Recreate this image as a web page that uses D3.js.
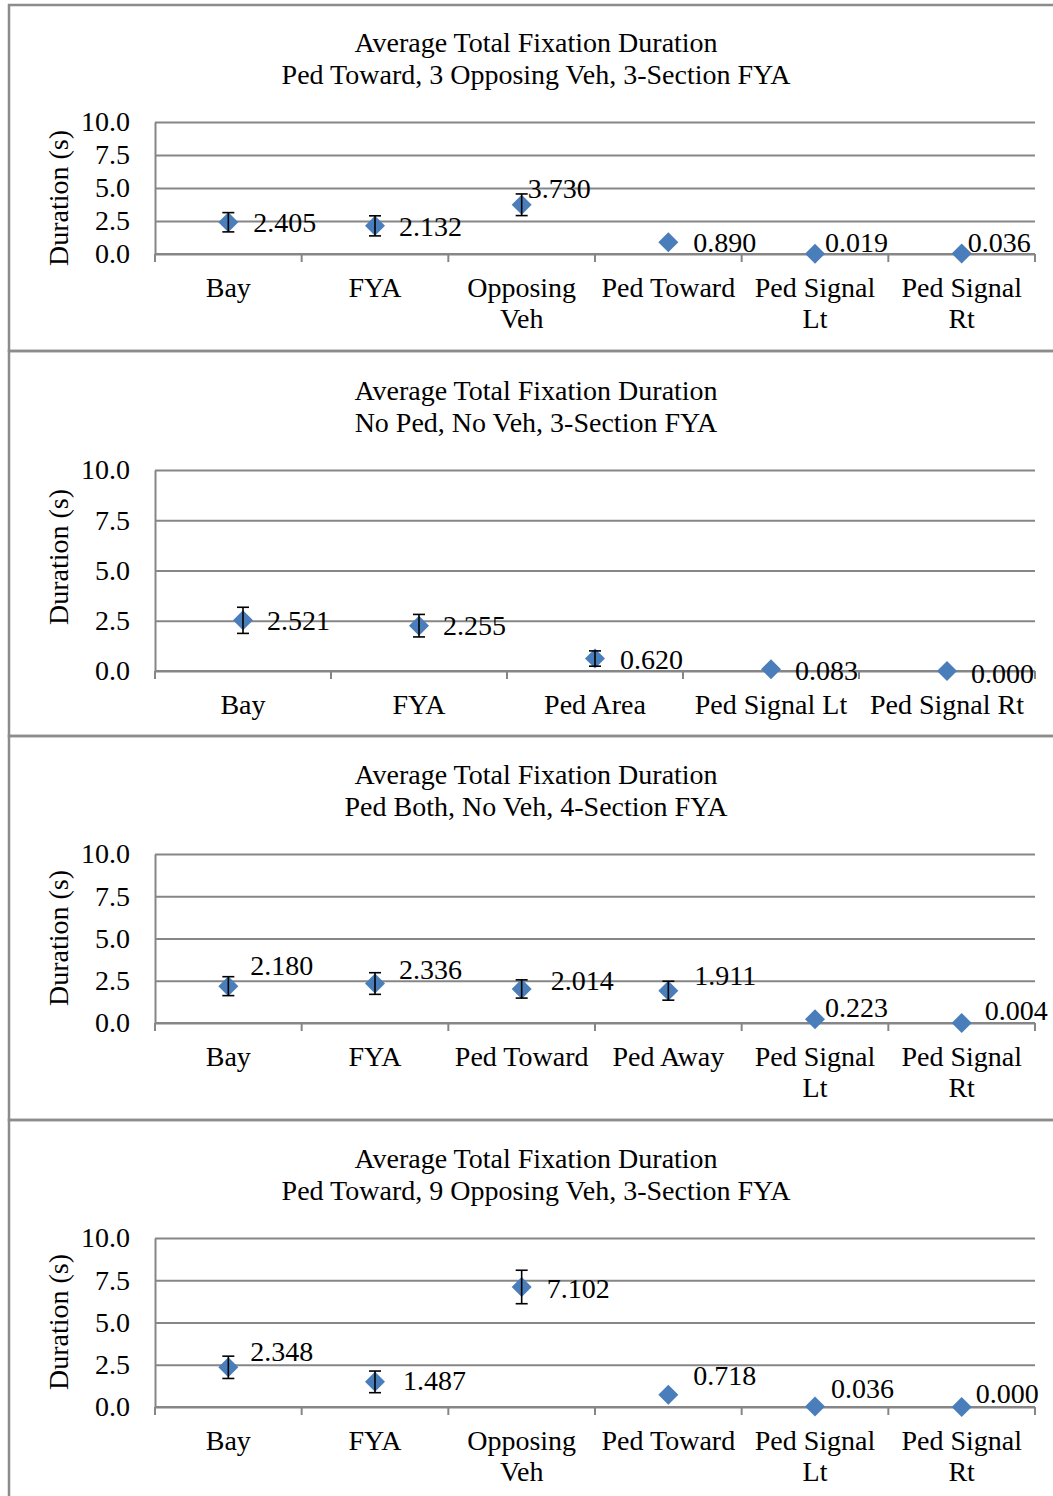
<!DOCTYPE html>
<html>
<head>
<meta charset="utf-8">
<script src="https://cdn.jsdelivr.net/npm/d3@7"></script>
<style>
  body { margin: 0; background: #fff; }
  svg { display: block; }
  text { font-family: "Liberation Serif", "Times New Roman", serif; fill: #000; }
</style>
</head>
<body>
<div id="chart"></div>
<script>
// ---- data ----
const titleSub = [
  'Ped Toward, 3 Opposing Veh, 3-Section FYA',
  'No Ped, No Veh, 3-Section FYA',
  'Ped Both, No Veh, 4-Section FYA',
  'Ped Toward, 9 Opposing Veh, 3-Section FYA'
];
const yTicks = [0, 2.5, 5, 7.5, 10];

const cats1 = ['Bay', 'FYA', 'Opposing\nVeh', 'Ped Toward', 'Ped Signal\nLt', 'Ped Signal\nRt'];
const vals1 = [2.405, 2.132, 3.730, 0.890, 0.019, 0.036];
const errs1 = [0.73, 0.76, 0.82, 0, 0, 0];

const cats2 = ['Bay', 'FYA', 'Ped Area', 'Ped Signal Lt', 'Ped Signal Rt'];
const vals2 = [2.521, 2.255, 0.620, 0.083, 0.000];
const errs2 = [0.65, 0.56, 0.38, 0, 0];

const cats3 = ['Bay', 'FYA', 'Ped Toward', 'Ped Away', 'Ped Signal\nLt', 'Ped Signal\nRt'];
const vals3 = [2.180, 2.336, 2.014, 1.911, 0.223, 0.004];
const errs3 = [0.56, 0.64, 0.54, 0.56, 0, 0];

const cats4 = ['Bay', 'FYA', 'Opposing\nVeh', 'Ped Toward', 'Ped Signal\nLt', 'Ped Signal\nRt'];
const vals4 = [2.348, 1.487, 7.102, 0.718, 0.036, 0.000];
const errs4 = [0.66, 0.64, 0.99, 0, 0, 0];

// ---- layout (label offsets from marker, px) ----
const labelOff1 = [[25, 0], [24, 0], [6, -17], [25, 0], [10, -12], [6, -11]];
const labelOff2 = [[24, 0], [24, 0], [25, 1], [24, 1], [24, 2]];
const labelOff3 = [[22, -21], [24, -14], [29, -9], [26, -16], [10, -12], [23, -13]];
const labelOff4 = [[22, -16], [28, -2], [25, 1], [25, -20], [16, -18], [14, -14]];

const W = 1053, H = 1496;
const FS = '28px';
const panels = [
  { cats: cats1, vals: vals1, errs: errs1, off: labelOff1, box: [5, 351], top: 122, bottom: 254, ylab: 198 },
  { cats: cats2, vals: vals2, errs: errs2, off: labelOff2, box: [351, 736], top: 470, bottom: 671, ylab: 557 },
  { cats: cats3, vals: vals3, errs: errs3, off: labelOff3, box: [736, 1120], top: 854, bottom: 1023, ylab: 938 },
  { cats: cats4, vals: vals4, errs: errs4, off: labelOff4, box: [1120, 1510], top: 1238, bottom: 1407, ylab: 1322 }
];
const plotLeft = 155, plotRight = 1035;
const grey = '#868686';
const blue = '#4a7ebb';

const svg = d3.select('#chart').append('svg')
  .attr('width', W)
  .attr('height', H);

panels.forEach((p, i) => {
  // panel frame
  svg.append('rect')
    .attr('x', 9).attr('y', p.box[0])
    .attr('width', W + 20).attr('height', p.box[1] - p.box[0])
    .attr('fill', 'none')
    .attr('stroke', '#8c8c8c')
    .attr('stroke-width', 2.5);

  const g = svg.append('g');

  const x = d3.scaleBand()
    .domain(p.cats)
    .range([plotLeft, plotRight])
    .padding(0);
  const y = d3.scaleLinear()
    .domain([0, 10])
    .range([p.bottom, p.top]);

  // title
  g.append('text')
    .attr('x', 536).attr('y', p.top - 80)
    .attr('text-anchor', 'middle').attr('dy', '0.35em')
    .style('font-size', FS)
    .text('Average Total Fixation Duration');
  g.append('text')
    .attr('x', 536).attr('y', p.top - 48)
    .attr('text-anchor', 'middle').attr('dy', '0.35em')
    .style('font-size', FS)
    .text(titleSub[i]);

  // y axis with gridlines
  const yAxis = d3.axisLeft(y)
    .tickValues(yTicks)
    .tickFormat(d3.format('.1f'))
    .tickSize(-(plotRight - plotLeft))
    .tickSizeOuter(0)
    .tickPadding(25);
  const ya = g.append('g')
    .attr('transform', `translate(${plotLeft},0)`)
    .call(yAxis);
  ya.select('.domain').attr('stroke', grey).attr('stroke-width', 2);
  ya.selectAll('.tick line').attr('stroke', grey).attr('stroke-width', 2);
  ya.selectAll('.tick text')
    .style('font-size', FS)
    .style('font-family', '"Liberation Serif", serif')
    .attr('fill', '#000');

  // x axis: boundary ticks
  const bounds = p.cats.map(c => x(c)).concat([plotRight]);
  g.append('line')
    .attr('x1', plotLeft).attr('x2', plotRight)
    .attr('y1', y(0)).attr('y2', y(0))
    .attr('stroke', grey).attr('stroke-width', 2);
  g.selectAll('.xtick')
    .data(bounds)
    .enter()
    .append('line')
    .attr('x1', d => d).attr('x2', d => d)
    .attr('y1', y(0)).attr('y2', y(0) + 8)
    .attr('stroke', grey).attr('stroke-width', 2);

  // category labels
  g.selectAll('.xlabel')
    .data(p.cats)
    .enter()
    .append('text')
    .attr('text-anchor', 'middle')
    .style('font-size', FS)
    .each(function (d) {
      const t = d3.select(this);
      d.split('\n').forEach((line, k) => {
        t.append('tspan')
          .attr('x', x(d) + x.bandwidth() / 2)
          .attr('y', y(0) + 33 + k * 31)
          .attr('dy', '0.35em')
          .text(line);
      });
    });

  // y axis title
  g.append('text')
    .attr('transform', `translate(58,${p.ylab}) rotate(-90)`)
    .attr('text-anchor', 'middle')
    .attr('dy', '0.35em')
    .style('font-size', FS)
    .text('Duration (s)');

  const cx = (d, j) => x(p.cats[j]) + x.bandwidth() / 2;

  // markers
  g.selectAll('.pt')
    .data(p.vals)
    .enter()
    .append('path')
    .attr('d', 'M0,-10L10,0L0,10L-10,0Z')
    .attr('transform', (d, j) => `translate(${cx(d, j)},${y(d)})`)
    .attr('fill', blue);

  // error bars
  const eb = g.selectAll('.err')
    .data(p.vals.map((v, j) => ({ v, e: p.errs[j], j })).filter(d => d.e > 0))
    .enter()
    .append('g')
    .attr('stroke', '#000')
    .attr('stroke-width', 1.6);
  eb.append('line')
    .attr('x1', d => cx(d, d.j)).attr('x2', d => cx(d, d.j))
    .attr('y1', d => y(d.v + d.e)).attr('y2', d => y(d.v - d.e));
  eb.append('line')
    .attr('x1', d => cx(d, d.j) - 6).attr('x2', d => cx(d, d.j) + 6)
    .attr('y1', d => y(d.v + d.e)).attr('y2', d => y(d.v + d.e));
  eb.append('line')
    .attr('x1', d => cx(d, d.j) - 6).attr('x2', d => cx(d, d.j) + 6)
    .attr('y1', d => y(d.v - d.e)).attr('y2', d => y(d.v - d.e));

  // data labels
  g.selectAll('.val')
    .data(p.vals)
    .enter()
    .append('text')
    .attr('x', (d, j) => cx(d, j) + p.off[j][0])
    .attr('y', (d, j) => y(d) + p.off[j][1])
    .attr('dy', '0.35em')
    .style('font-size', FS)
    .text(d => d3.format('.3f')(d));
});
</script>
</body>
</html>
